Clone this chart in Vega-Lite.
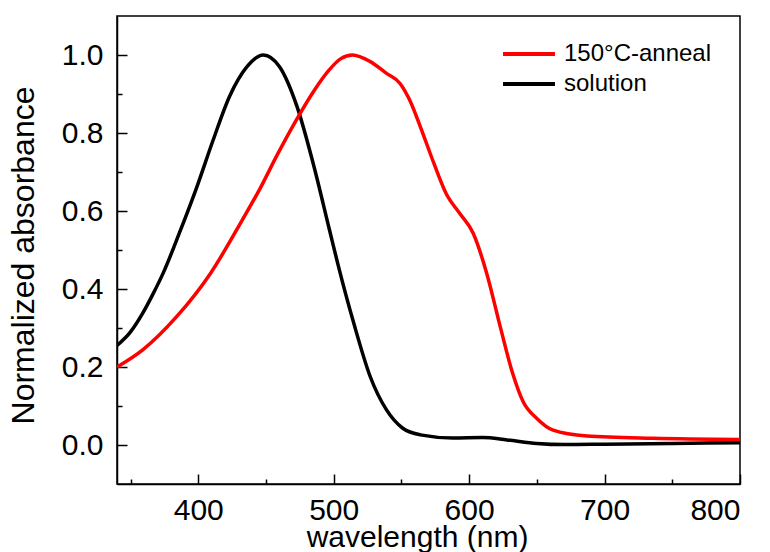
{
  "$schema": "https://vega.github.io/schema/vega-lite/v6.json",
  "width": 623,
  "height": 468,
  "autosize": {"type": "none"},
  "padding": {"left": 117, "top": 16, "right": 30, "bottom": 68},
  "background": "white",
  "config": {
    "font": "Liberation Sans",
    "view": {"stroke": "black", "strokeWidth": 1.5},
    "axis": {"grid": false, "domainColor": "black", "domainWidth": 1.5, "tickColor": "black", "tickWidth": 1.5, "labelColor": "black", "titleColor": "black", "labelFont": "Liberation Sans", "titleFont": "Liberation Sans", "titleFontWeight": "normal"}
  },
  "data": {"values": [
    {"wavelength": 340, "absorbance": 0.255, "sample": "solution"},
    {"wavelength": 350, "absorbance": 0.29, "sample": "solution"},
    {"wavelength": 359, "absorbance": 0.338, "sample": "solution"},
    {"wavelength": 367, "absorbance": 0.39, "sample": "solution"},
    {"wavelength": 374, "absorbance": 0.44, "sample": "solution"},
    {"wavelength": 386, "absorbance": 0.543, "sample": "solution"},
    {"wavelength": 399, "absorbance": 0.662, "sample": "solution"},
    {"wavelength": 411, "absorbance": 0.782, "sample": "solution"},
    {"wavelength": 423, "absorbance": 0.893, "sample": "solution"},
    {"wavelength": 436, "absorbance": 0.97, "sample": "solution"},
    {"wavelength": 448, "absorbance": 1.0, "sample": "solution"},
    {"wavelength": 460, "absorbance": 0.97, "sample": "solution"},
    {"wavelength": 473, "absorbance": 0.867, "sample": "solution"},
    {"wavelength": 485, "absorbance": 0.72, "sample": "solution"},
    {"wavelength": 497, "absorbance": 0.55, "sample": "solution"},
    {"wavelength": 503, "absorbance": 0.465, "sample": "solution"},
    {"wavelength": 515, "absorbance": 0.31, "sample": "solution"},
    {"wavelength": 527, "absorbance": 0.175, "sample": "solution"},
    {"wavelength": 539, "absorbance": 0.09, "sample": "solution"},
    {"wavelength": 551, "absorbance": 0.043, "sample": "solution"},
    {"wavelength": 564, "absorbance": 0.026, "sample": "solution"},
    {"wavelength": 588, "absorbance": 0.018, "sample": "solution"},
    {"wavelength": 610, "absorbance": 0.019, "sample": "solution"},
    {"wavelength": 628, "absorbance": 0.013, "sample": "solution"},
    {"wavelength": 650, "absorbance": 0.004, "sample": "solution"},
    {"wavelength": 670, "absorbance": 0.001, "sample": "solution"},
    {"wavelength": 700, "absorbance": 0.002, "sample": "solution"},
    {"wavelength": 750, "absorbance": 0.004, "sample": "solution"},
    {"wavelength": 800, "absorbance": 0.006, "sample": "solution"},
    {"wavelength": 340, "absorbance": 0.2, "sample": "150°C-anneal"},
    {"wavelength": 359, "absorbance": 0.244, "sample": "150°C-anneal"},
    {"wavelength": 384, "absorbance": 0.329, "sample": "150°C-anneal"},
    {"wavelength": 409, "absorbance": 0.44, "sample": "150°C-anneal"},
    {"wavelength": 433, "absorbance": 0.58, "sample": "150°C-anneal"},
    {"wavelength": 446, "absorbance": 0.66, "sample": "150°C-anneal"},
    {"wavelength": 458, "absorbance": 0.742, "sample": "150°C-anneal"},
    {"wavelength": 473, "absorbance": 0.837, "sample": "150°C-anneal"},
    {"wavelength": 485, "absorbance": 0.906, "sample": "150°C-anneal"},
    {"wavelength": 497, "absorbance": 0.963, "sample": "150°C-anneal"},
    {"wavelength": 505, "absorbance": 0.99, "sample": "150°C-anneal"},
    {"wavelength": 514, "absorbance": 1.0, "sample": "150°C-anneal"},
    {"wavelength": 527, "absorbance": 0.983, "sample": "150°C-anneal"},
    {"wavelength": 539, "absorbance": 0.953, "sample": "150°C-anneal"},
    {"wavelength": 549, "absorbance": 0.927, "sample": "150°C-anneal"},
    {"wavelength": 556, "absorbance": 0.885, "sample": "150°C-anneal"},
    {"wavelength": 564, "absorbance": 0.816, "sample": "150°C-anneal"},
    {"wavelength": 574, "absorbance": 0.722, "sample": "150°C-anneal"},
    {"wavelength": 583, "absorbance": 0.645, "sample": "150°C-anneal"},
    {"wavelength": 593, "absorbance": 0.594, "sample": "150°C-anneal"},
    {"wavelength": 603, "absorbance": 0.543, "sample": "150°C-anneal"},
    {"wavelength": 613, "absorbance": 0.44, "sample": "150°C-anneal"},
    {"wavelength": 623, "absorbance": 0.303, "sample": "150°C-anneal"},
    {"wavelength": 632, "absorbance": 0.185, "sample": "150°C-anneal"},
    {"wavelength": 640, "absorbance": 0.11, "sample": "150°C-anneal"},
    {"wavelength": 650, "absorbance": 0.068, "sample": "150°C-anneal"},
    {"wavelength": 662, "absorbance": 0.038, "sample": "150°C-anneal"},
    {"wavelength": 687, "absorbance": 0.023, "sample": "150°C-anneal"},
    {"wavelength": 736, "absorbance": 0.017, "sample": "150°C-anneal"},
    {"wavelength": 800, "absorbance": 0.014, "sample": "150°C-anneal"}
  ]},
  "layer": [
    {
      "mark": {"type": "line", "strokeWidth": 3.5, "interpolate": "monotone", "clip": true},
      "encoding": {
        "x": {"field": "wavelength", "type": "quantitative",
          "scale": {"domain": [340, 800], "nice": false, "zero": false},
          "axis": {"values": [400, 500, 600, 700, 800], "tickSize": -10, "labelPadding": 21, "labelFontSize": 30, "title": "wavelength (nm)", "titleFontSize": 30, "titlePadding": -3, "titleX": 300}},
        "y": {"field": "absorbance", "type": "quantitative",
          "scale": {"domain": [-0.1, 1.1], "nice": false, "zero": false},
          "axis": {"values": [0, 0.2, 0.4, 0.6, 0.8, 1.0], "format": ".1f", "tickSize": -10, "labelPadding": 24, "labelFontSize": 30, "title": "Normalized absorbance", "titleFontSize": 32, "titlePadding": 21, "titleY": 239}},
        "color": {"field": "sample", "type": "nominal",
          "scale": {"domain": ["150°C-anneal", "solution"], "range": ["#ff0000", "#000000"]},
          "legend": {"title": null, "orient": "none", "legendX": 384, "legendY": 24, "symbolType": "stroke", "symbolSize": 2700, "symbolStrokeWidth": 4, "labelFontSize": 24, "labelColor": "black", "labelOffset": 7, "clipHeight": 28, "rowPadding": 2}}
      }
    },
    {
      "mark": {"type": "point", "opacity": 0},
      "encoding": {
        "x": {"field": "wavelength", "type": "quantitative",
          "axis": {"orient": "bottom", "values": [350, 450, 550, 650, 750], "tickSize": -5, "labels": false, "domain": false, "title": null}},
        "y": {"field": "absorbance", "type": "quantitative",
          "axis": {"orient": "left", "values": [0.1, 0.3, 0.5, 0.7, 0.9], "tickSize": -5, "labels": false, "domain": false, "title": null}}
      }
    }
  ],
  "resolve": {"axis": {"x": "independent", "y": "independent"}}
}
